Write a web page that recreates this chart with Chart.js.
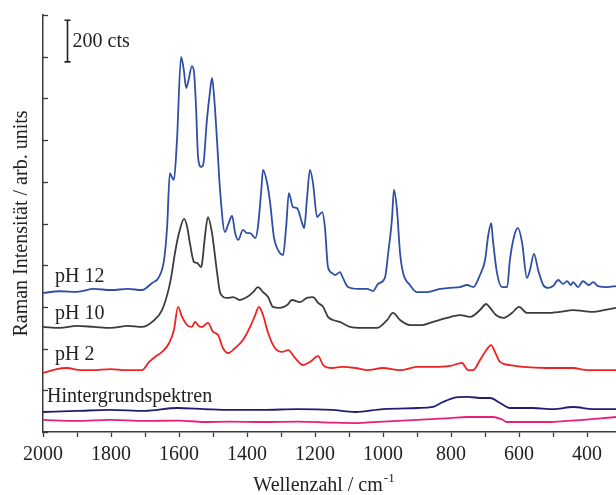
<!DOCTYPE html>
<html><head><meta charset="utf-8">
<script src="https://cdn.jsdelivr.net/npm/chart.js@4/dist/chart.umd.min.js"></script>
<style>html,body{margin:0;padding:0;background:#fff}</style>
</head><body>
<canvas id="c" width="616" height="495" style="display:block;width:616px;height:495px"></canvas>
<script>
// ---- data (wavenumber in cm^-1, intensity in cts incl. stacking offset) ----
const ph12Wn = [2000,1950,1900,1850,1800,1750,1709,1679,1659,1644,1635,1627,1621,1615,1606,1594,1586,1579,1573,1562,1556,1550,1544,1535,1529,1518,1509,1503,1497,1488,1480,1465,1456,1444,1435,1426,1412,1400,1391,1376,1368,1358,1353,1341,1332,1321,1309,1294,1285,1277,1265,1253,1238,1232,1224,1215,1206,1194,1179,1171,1162,1150,1141,1127,1118,1103,1074,1047,1029,1015,994,985,974,968,959,950,941,921,900,871,832,803,774,753,735,715,700,691,682,677,665,650,635,627,612,603,591,577,568,556,544,529,515,500,485,470,459,448,441,427,412,395,382,368,341,315];
const ph12Int = [667,675,672,686,681,686,681,715,743,825,983,1242,1223,1209,1400,1799,1737,1650,1680,1755,1727,1559,1319,1271,1281,1496,1631,1698,1612,1391,1175,959,993,1036,954,921,969,954,954,930,983,1161,1257,1194,1098,935,873,849,983,1146,1079,1074,1002,978,1113,1257,1194,1031,1055,983,791,763,753,767,739,695,686,686,676,710,743,858,1017,1161,1065,858,763,705,671,671,686,691,695,705,695,753,825,940,1002,921,763,695,695,825,954,978,906,739,777,854,777,705,691,700,729,710,724,705,719,695,724,705,719,700,695,700];

const ph10Wn = [2000,1950,1900,1850,1800,1750,1709,1679,1650,1629,1621,1612,1600,1585,1576,1568,1556,1547,1535,1532,1524,1515,1503,1488,1479,1459,1441,1421,1400,1382,1368,1353,1338,1324,1303,1282,1268,1244,1224,1206,1191,1176,1162,1147,1127,1097,1062,1018,988,971,950,921,885,853,812,774,744,715,697,685,668,647,621,600,577,547,518,480,441,410,382,350,315];
const ph10Int = [504,499,509,504,499,509,504,528,585,695,763,858,954,1022,983,906,815,811,791,811,935,1031,954,763,667,643,647,633,647,671,695,671,647,600,595,609,633,623,643,647,619,600,552,537,528,504,499,499,537,571,537,513,513,528,547,561,552,585,614,595,561,547,571,600,571,571,571,576,585,580,576,585,595];

const ph2Wn = [2000,1960,1929,1890,1856,1800,1759,1709,1688,1671,1650,1629,1615,1603,1591,1576,1562,1553,1538,1532,1515,1500,1485,1471,1456,1435,1412,1391,1376,1365,1353,1338,1318,1297,1279,1259,1235,1215,1191,1176,1150,1121,1082,1047,1000,950,900,853,803,768,750,735,715,700,682,671,656,627,588,518,441,400,315];
const ph2Int = [283,302,307,297,297,302,297,297,336,360,384,427,489,600,552,513,504,528,504,504,523,480,465,403,379,403,441,504,561,600,561,475,403,384,393,355,321,336,364,321,307,312,307,297,307,297,312,312,317,331,297,297,345,384,417,384,336,321,312,307,307,297,297];

const bg1Wn = [2000,1900,1803,1700,1606,1526,1450,1356,1250,1150,1082,1000,900,853,824,794,753,706,685,656,627,559,500,441,380,315];
const bg1Int = [96,101,106,101,115,110,106,106,110,106,96,110,115,120,144,163,168,163,163,139,115,115,110,120,110,110];

const bg2Wn = [2000,1900,1803,1700,1600,1526,1450,1356,1250,1150,1082,1000,900,803,753,706,677,650,635,560,509,460,412,360,315];
const bg2Int = [58,53,58,53,55,48,50,48,50,45,43,50,58,67,72,72,72,60,48,48,48,53,58,65,72];

const seriesLabels = ['pH 12','pH 10','pH 2','Hintergrundspektren'];
const xMin = 315, xMax = 2000, yMax = 2000, yStep = 200;
const scaleBarCts = 200;

// ---- build ----
const FONT = "'Liberation Serif','Times New Roman',serif";
const TXT = '#222';
const AX = '#3a3a3a';
function pts(w, v){ return w.map((x,i)=>({x:x, y:v[i]})); }
function ds(label, w, v, color){
  return {label, data: pts(w,v), borderColor: color, backgroundColor: color,
    borderWidth: 1.8, pointRadius: 0, cubicInterpolationMode: 'monotone', fill: false};
}

const annot = {
  id: 'annot',
  afterDraw(chart){
    const ctx = chart.ctx, xs = chart.scales.x, ys = chart.scales.y;
    ctx.save();
    // inward y ticks
    ctx.strokeStyle = AX; ctx.lineWidth = 1.3;
    ys.ticks.forEach(t => {
      const y = Math.round(ys.getPixelForValue(t.value)) + 0.5;
      ctx.beginPath(); ctx.moveTo(xs.left, y); ctx.lineTo(xs.left + 5, y); ctx.stroke();
    });
    // scale bar
    const bx = Math.round(xs.getPixelForValue(1930)) + 0.5;
    const b0 = ys.getPixelForValue(1775), b1 = ys.getPixelForValue(1775 + scaleBarCts);
    ctx.strokeStyle = '#222'; ctx.lineWidth = 1.6;
    ctx.beginPath();
    ctx.moveTo(bx, b0); ctx.lineTo(bx, b1);
    ctx.moveTo(bx-3, b0); ctx.lineTo(bx+3, b0);
    ctx.moveTo(bx-3, b1); ctx.lineTo(bx+3, b1);
    ctx.stroke();
    ctx.fillStyle = TXT;
    ctx.font = '20px ' + FONT;
    ctx.textBaseline = 'alphabetic';
    ctx.textAlign = 'left';
    ctx.fillText(scaleBarCts + ' cts', bx + 5, 47);
    // series labels
    ctx.fillText(seriesLabels[0], 55, 282);
    ctx.fillText(seriesLabels[1], 55, 319);
    ctx.fillText(seriesLabels[2], 55, 360);
    ctx.fillText(seriesLabels[3], 47, 402);
    // x title with superscript
    const main = 'Wellenzahl / cm';
    const w = ctx.measureText(main).width;
    ctx.font = '13px ' + FONT;
    const ws = ctx.measureText('-1').width;
    const x0 = (xs.left + xs.right)/2 - (w + ws)/2 - 6;
    ctx.font = '20px ' + FONT;
    ctx.fillText(main, x0, 491);
    ctx.font = '13px ' + FONT;
    ctx.fillText('-1', x0 + w + 1, 482);
    ctx.restore();
  }
};

new Chart(document.getElementById('c'), {
  type: 'line',
  data: { datasets: [
    ds(seriesLabels[0], ph12Wn, ph12Int, '#2f4fa6'),
    ds(seriesLabels[1], ph10Wn, ph10Int, '#3c3c3c'),
    ds(seriesLabels[2], ph2Wn, ph2Int, '#ee2222'),
    ds('Hintergrund 1', bg1Wn, bg1Int, '#1f1f72'),
    ds('Hintergrund 2', bg2Wn, bg2Int, '#e8207a')
  ]},
  options: {
    responsive: false, animation: false, devicePixelRatio: 1,
    layout: { padding: { top: 15, right: 0, left: 0, bottom: 0 } },
    plugins: { legend: { display: false }, tooltip: { enabled: false } },
    scales: {
      x: {
        type: 'linear', reverse: true, min: xMin, max: xMax, position: 'bottom',
        afterFit: s => { s.height = 63; },
        border: { color: AX, width: 1.5 },
        grid: { drawOnChartArea: false, drawTicks: true, tickLength: 5, tickColor: AX, tickWidth: 1.3 },
        ticks: { stepSize: 100, includeBounds: false, autoSkip: false, maxRotation: 0, padding: 6,
          color: TXT, font: { family: FONT, size: 20 },
          callback: v => (v % 200 === 0 ? String(v) : '') }
      },
      y: {
        min: 0, max: yMax, position: 'left',
        afterFit: s => { s.width = 43; },
        border: { color: AX, width: 1.5 },
        grid: { drawOnChartArea: false, drawTicks: false },
        ticks: { display: false, stepSize: yStep },
        title: { display: true, text: 'Raman Intensität / arb. units', color: TXT,
          font: { family: FONT, size: 20 }, padding: { top: 10, bottom: 0 } }
      }
    }
  },
  plugins: [annot]
});
</script>
</body></html>
